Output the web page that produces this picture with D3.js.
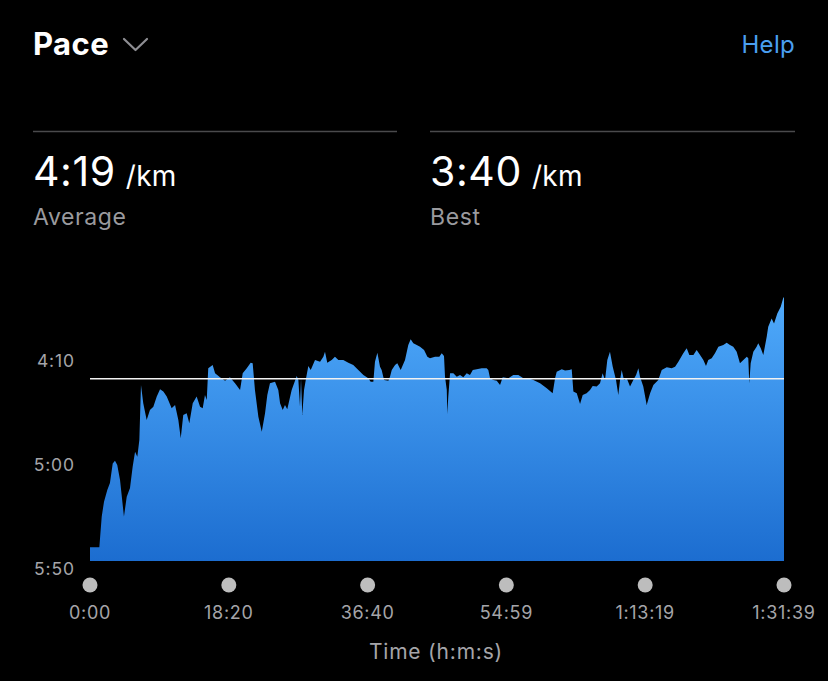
<!DOCTYPE html>
<html>
<head>
<meta charset="utf-8">
<script src="https://cdn.jsdelivr.net/npm/d3@7"></script>
<style>
  html, body { margin: 0; padding: 0; background: #000; }
  svg { display: block; }
  text { font-family: Inter, "Noto Sans", Roboto, sans-serif; }
</style>
</head>
<body>
<svg id="chart" width="828" height="681"></svg>
<script>
// ---- data (time in seconds, pace in seconds per km) ----
const timeSec = [0,74,93,111,137,158,180,198,216,238,269,291,317,338,357,375,391,404,422,449,475,502,529,555,581,608,647,674,700,719,739,766,787,814,845,872,893,911,925,937,972,991,1030,1070,1109,1149,1189,1210,1242,1273,1289,1307,1334,1361,1387,1405,1426,1466,1492,1506,1527,1545,1563,1598,1638,1651,1664,1672,1682,1696,1712,1730,1749,1783,1823,1849,1862,1880,1915,1941,1968,2007,2047,2086,2126,2166,2205,2224,2245,2258,2277,2298,2311,2330,2364,2377,2391,2417,2435,2462,2496,2522,2541,2562,2589,2615,2647,2673,2694,2734,2768,2787,2805,2813,2827,2831,2839,2853,2879,2906,2932,2958,2985,3011,3033,3064,3104,3143,3156,3170,3196,3223,3249,3270,3315,3354,3394,3434,3473,3513,3566,3619,3666,3685,3698,3738,3764,3798,3817,3830,3857,3883,3904,3935,3962,3983,4015,4041,4062,4081,4099,4120,4142,4168,4186,4200,4213,4231,4253,4279,4305,4327,4345,4358,4384,4411,4438,4464,4503,4530,4570,4609,4636,4662,4701,4728,4749,4781,4807,4834,4860,4881,4899,4926,4952,4979,5018,5045,5071,5097,5124,5150,5177,5204,5216,5224,5235,5256,5282,5295,5315,5335,5362,5374,5401,5420,5446,5473,5494,5499];
const paceSec = [340,340,325.3,318.1,312.5,309.1,299.7,298.4,300.5,307.7,325.3,315.7,311.5,301.3,294.1,296.5,288.5,262,270.8,278.8,274,272.5,267.6,264.1,265.2,267.6,273.2,271.6,278.8,287.6,276.4,275.6,280.4,270.8,267.6,272.5,273.2,266.8,269.2,254,252.4,256.4,258.3,260,258.3,261.2,264.4,256.4,254,251.3,251.6,264.4,277.3,284.5,275.6,266.8,261.2,260.4,264.4,270.8,274,271.6,273.7,264.4,257.7,259.6,272.5,258.8,276.4,264.4,258.8,252.9,254.8,250,250.8,248.4,246,251.3,250,248.4,250,250,251.3,252.4,254.8,257.2,258.8,260.4,260.4,250.8,246.5,253.2,254.8,259.6,260,258,254.8,252.4,251.6,254.8,250,242.8,240,242,242.8,243.6,245.2,248.4,249.2,248.4,248.4,246.8,248.1,258,264.4,276,267.6,256.4,256.4,258,257.2,258.3,256.4,257.2,254.8,254.5,254,254,254.8,258.8,259.6,260,262,258.3,258.8,257.2,257.2,258.8,258.8,259.6,261.2,263.6,266,258.8,255.6,254.5,255.1,254.8,254.5,265.2,266,271.2,266.8,266,264.4,262.5,262.8,261.2,256.4,259.6,250,246,253.2,259.6,266.8,259.6,254.8,259.6,258.8,262.8,259.6,257.2,254,258,262.8,271.6,266,262,259.6,254.8,253.5,254,253.2,250.8,246.8,244.4,247.6,247.6,245.2,247.6,250,252.9,250,249.2,246.8,243.6,242.8,241.7,242.8,243.6,246,251.6,250,248.4,249.2,261.2,251.6,246,243.6,242,244.4,247.6,238.8,234,230,232.4,227.6,224.4,219.9,220];
const yTickValues = [250, 300, 350];            // 4:10, 5:00, 5:50
const xTickValues = [0, 1100, 2200, 3299, 4399, 5499];
const averagePace = 259;                        // 4:19 /km
const bestPace = 220;                           // 3:40 /km
const totalTime = 5499;

const fmtPace = s => Math.floor(s / 60) + ":" + String(Math.round(s % 60)).padStart(2, "0");
const fmtTime = s => {
  const h = Math.floor(s / 3600), m = Math.floor((s % 3600) / 60), sec = Math.round(s % 60);
  return h > 0 ? h + ":" + String(m).padStart(2, "0") + ":" + String(sec).padStart(2, "0")
               : m + ":" + String(sec).padStart(2, "0");
};

const data = timeSec.map((t, i) => ({ t, p: paceSec[i] }));

const svg = d3.select("#chart");

// ---- header ----
svg.append("text").attr("x", 33).attr("y", 55).attr("fill", "#fff")
  .attr("font-size", 31).attr("font-weight", 700).attr("letter-spacing", 0.4).text("Pace");
svg.append("path").attr("d", "M124,39 L135.5,50 L147,39")
  .attr("fill", "none").attr("stroke", "#8e8e93").attr("stroke-width", 2.2)
  .attr("stroke-linecap", "round").attr("stroke-linejoin", "round");
svg.append("text").attr("x", 795).attr("y", 53).attr("text-anchor", "end")
  .attr("fill", "#4a9ff0").attr("font-size", 24).attr("letter-spacing", 0.3).text("Help");

// ---- stat blocks ----
const stats = [
  { x: 33, x2: 397, value: averagePace, label: "Average" },
  { x: 430, x2: 795, value: bestPace, label: "Best" }
];
stats.forEach(s => {
  svg.append("line").attr("x1", s.x).attr("x2", s.x2).attr("y1", 131.5).attr("y2", 131.5)
    .attr("stroke", "#4a4a4c").attr("stroke-width", 1.5);
  const t = svg.append("text").attr("x", s.x).attr("y", 186).attr("fill", "#fff");
  t.append("tspan").attr("font-size", 41).attr("letter-spacing", 0.6).text(fmtPace(s.value));
  t.append("tspan").attr("font-size", 28).attr("dx", 10).attr("letter-spacing", 0.3).text("/km");
  svg.append("text").attr("x", s.x).attr("y", 225).attr("fill", "#9a9a9e")
    .attr("font-size", 23).attr("letter-spacing", 0.6).text(s.label);
});

// ---- chart ----
const x = d3.scaleLinear().domain([0, totalTime]).range([90, 784]);
const y = d3.scaleLinear().domain([250, 350]).range([360, 568]);
const plotBottom = 561;

const defs = svg.append("defs");
const grad = defs.append("linearGradient").attr("id", "fillGrad")
  .attr("gradientUnits", "userSpaceOnUse")
  .attr("x1", 0).attr("x2", 0).attr("y1", y(bestPace)).attr("y2", plotBottom);
grad.append("stop").attr("offset", "0%").attr("stop-color", "#4faafb");
grad.append("stop").attr("offset", "100%").attr("stop-color", "#1c6dd0");

const area = d3.area()
  .x(d => x(d.t))
  .y0(plotBottom)
  .y1(d => y(d.p))
  .curve(d3.curveLinear);

svg.append("path").datum(data).attr("d", area).attr("fill", "url(#fillGrad)");

// average line
svg.append("line")
  .attr("x1", x(0)).attr("x2", x(totalTime))
  .attr("y1", y(averagePace)).attr("y2", y(averagePace))
  .attr("stroke", "#f2f2f2").attr("stroke-width", 1.4);

// y labels
svg.append("g").selectAll("text").data(yTickValues).join("text")
  .attr("x", 75).attr("y", d => y(d)).attr("text-anchor", "end")
  .attr("dominant-baseline", "central").attr("letter-spacing", 0.9)
  .attr("fill", "#a5a5a9").attr("font-size", 17.5).text(d => fmtPace(d));

// x ticks: dots + labels
const xg = svg.append("g");
xg.selectAll("circle").data(xTickValues).join("circle")
  .attr("cx", d => x(d)).attr("cy", 585).attr("r", 7.5).attr("fill", "#bdbdbd");
xg.selectAll("text").data(xTickValues).join("text")
  .attr("x", d => x(d)).attr("y", 619).attr("text-anchor", "middle")
  .attr("letter-spacing", 0.7)
  .attr("fill", "#a5a5a9").attr("font-size", 18).text(d => fmtTime(d));

svg.append("text").attr("x", 436).attr("y", 659).attr("text-anchor", "middle")
  .attr("fill", "#a5a5a9").attr("font-size", 21).attr("letter-spacing", 0.8).text("Time (h:m:s)");
</script>
</body>
</html>
